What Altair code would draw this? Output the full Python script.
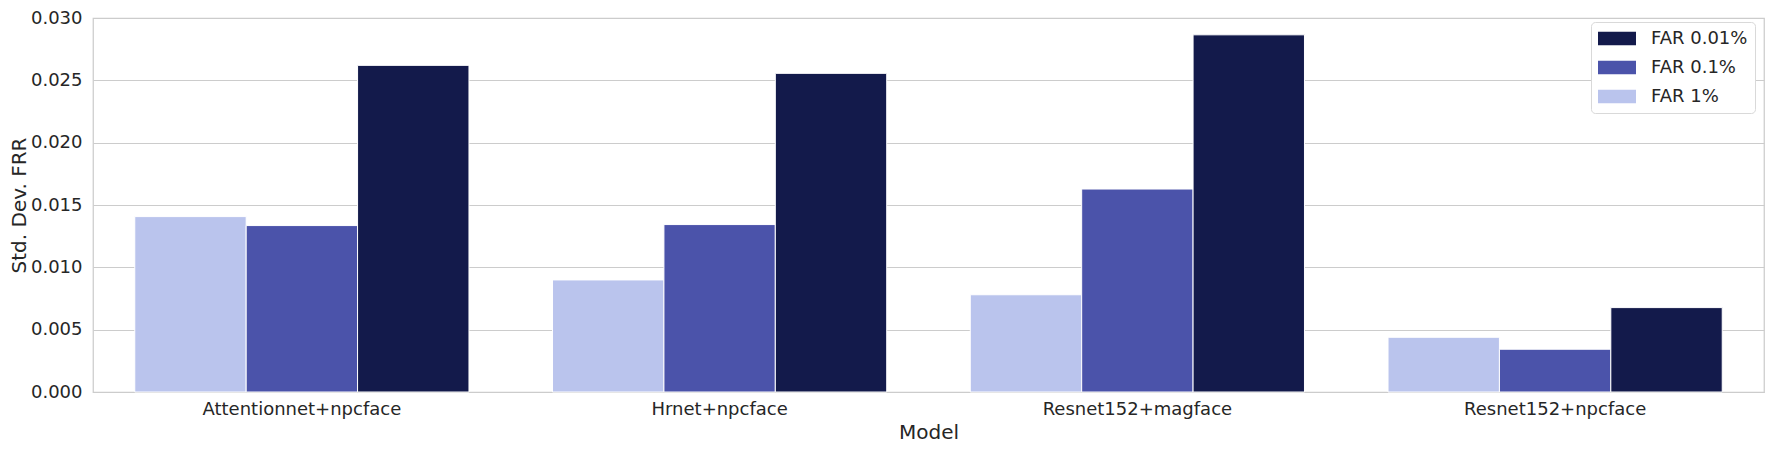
import altair as alt
import pandas as pd

models = ["Attentionnet+npcface", "Hrnet+npcface", "Resnet152+magface", "Resnet152+npcface"]
far_levels = ["FAR 1%", "FAR 0.1%", "FAR 0.01%"]
legend_order = ["FAR 0.01%", "FAR 0.1%", "FAR 1%"]
colors = ["#131a4b", "#4b53aa", "#bac4ed"]

far_1 = [0.01407, 0.00899, 0.00780, 0.00439]
far_01 = [0.01335, 0.01343, 0.01628, 0.00343]
far_001 = [0.02620, 0.02556, 0.02865, 0.00677]

y_ticks = [0.0, 0.005, 0.010, 0.015, 0.020, 0.025, 0.030]

rows = []
for i, m in enumerate(models):
    rows.append({"Model": m, "FAR": "FAR 1%", "v": far_1[i]})
    rows.append({"Model": m, "FAR": "FAR 0.1%", "v": far_01[i]})
    rows.append({"Model": m, "FAR": "FAR 0.01%", "v": far_001[i]})
df = pd.DataFrame(rows)

FONT = "DejaVu Sans"
TXT = "#262626"

chart = alt.Chart(df).mark_bar(stroke="white", strokeWidth=1).encode(
    x=alt.X("Model:N", sort=models,
            scale=alt.Scale(paddingInner=0.2, paddingOuter=0.1),
            axis=alt.Axis(title="Model", labelAngle=0, grid=False, ticks=False,
                          domain=False, labelPadding=8, titlePadding=4, labelLimit=0,
                          labelFontSize=18, titleFontSize=20, titleFontWeight="normal")),
    xOffset=alt.XOffset("FAR:N", sort=far_levels, scale=alt.Scale(paddingInner=0, paddingOuter=0)),
    y=alt.Y("v:Q", scale=alt.Scale(domain=[0, 0.03], nice=False, zero=True),
            axis=alt.Axis(title="Std. Dev. FRR", values=y_ticks, format=".3f",
                          grid=True, ticks=False, domain=False, labelPadding=11,
                          titlePadding=1, labelFontSize=18, titleFontSize=20,
                          titleFontWeight="normal")),
    color=alt.Color("FAR:N",
                    scale=alt.Scale(domain=legend_order, range=colors),
                    legend=alt.Legend(title=None, orient="none", legendX=1498, legendY=4,
                                      symbolType="M-1,-0.72H3V0.72H-1Z", symbolSize=361,
                                      symbolStrokeWidth=0, symbolOpacity=1,
                                      labelFontSize=18, labelOffset=34, rowPadding=10,
                                      padding=7, strokeColor="#d9d9d9", fillColor="white",
                                      cornerRadius=4, labelColor=TXT, labelFont=FONT)),
).properties(
    width=1671, height=374,
    autosize=alt.AutoSizeParams(type="none"),
    padding={"left": 85, "top": 10, "right": 2, "bottom": 52},
).configure_view(
    stroke="#cccccc", strokeWidth=1.25
).configure_axis(
    gridColor="#cccccc", gridWidth=1, labelFont=FONT, titleFont=FONT,
    labelColor=TXT, titleColor=TXT
)

chart.save("out.html", embed_options={"renderer": "svg", "actions": False})
